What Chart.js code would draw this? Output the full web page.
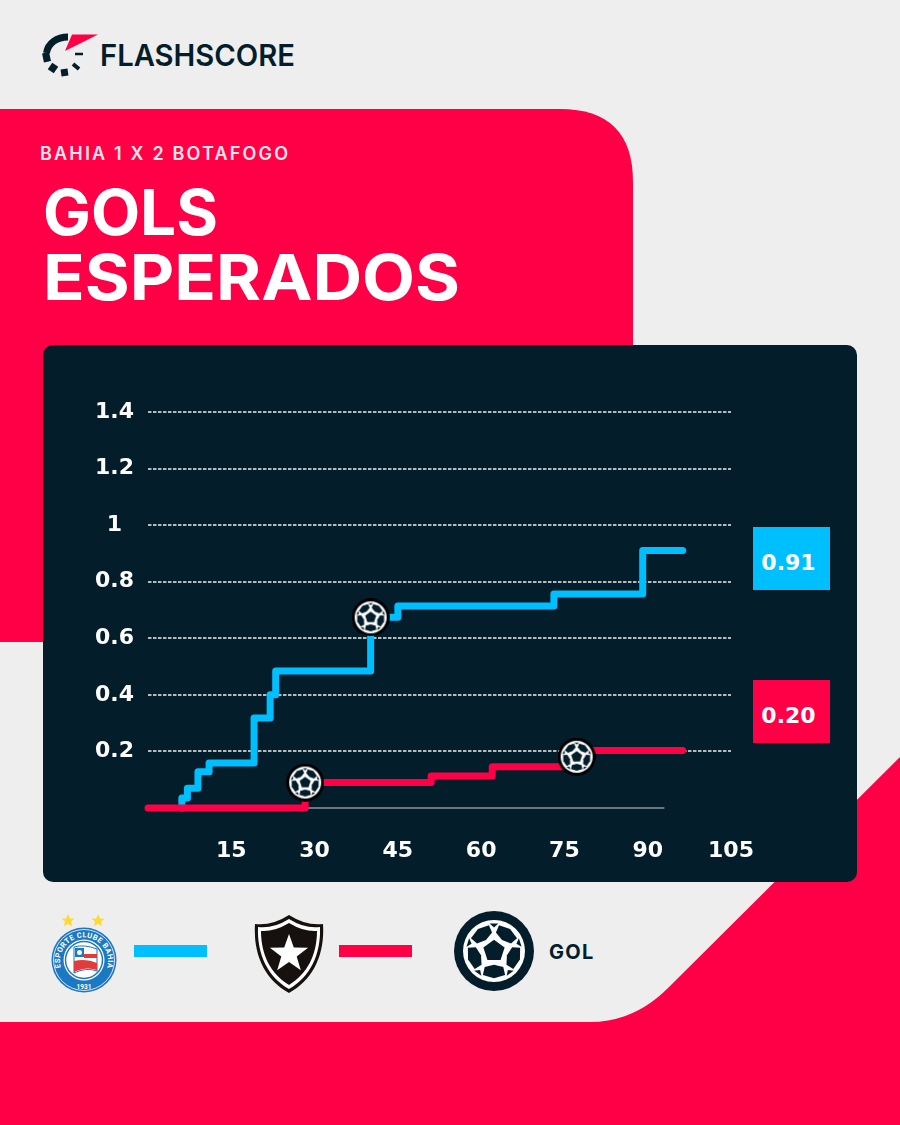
<!DOCTYPE html>
<html lang="pt-BR">
<head>
<meta charset="UTF-8" />
<title>Gols esperados - Bahia 1 x 2 Botafogo</title>
<script src="https://cdn.jsdelivr.net/npm/chart.js"></script>
<style>
    html, body { margin: 0; padding: 0; }
    body { width: 900px; height: 1125px; position: relative; overflow: hidden; background: #eeeeee; }
    #fundo { position: absolute; left: 0; top: 0; }
    #painel { position: absolute; left: 43px; top: 345px; width: 814px; height: 537px; background: #031e2a; border-radius: 10px; }
    #grafico { position: absolute; left: 0; top: 0; }
    .caixa { position: absolute; left: 710px; width: 77px; height: 63px; box-sizing: border-box; padding-right: 6px; text-align: center; color: #fff; font: bold 22px/71px 'DejaVu Sans', sans-serif; }
</style>
</head>
<body>

<svg id="fundo" width="900" height="1125" viewBox="0 0 900 1125">
    <!-- formas de fundo -->
    <path d="M0 109H560Q633 109 633 182V642H0Z" fill="#ff0046" />
    <path d="M900 757L668 988Q634 1022 590 1022H0V1125H900Z" fill="#ff0046" />

    <!-- logo -->
    <g fill="none" stroke="#031e2a" stroke-width="7">
        <path d="M46.5 53C48 43 57 37 68 37" />
        <path d="M43 58L50 56.5" stroke-width="9" />
        <path d="M50 66L56 70" stroke-width="8" />
        <path d="M64 69L65 76" stroke-width="7" />
        <path d="M73 64L79 69" stroke-width="4" />
        <path d="M75 54H83" stroke-width="2.5" />
    </g>
    <path d="M72 34.5H98L65 51Z" fill="#ff0046" />
    <text x="100" y="66" font-family="Inter, sans-serif" font-weight="600" font-size="30" fill="#031e2a" textLength="195" lengthAdjust="spacingAndGlyphs">FLASHSCORE</text>

    <!-- titulos -->
    <text x="40" y="160" font-family="Inter, sans-serif" font-weight="600" font-size="18" fill="#ffe6ec" textLength="248">BAHIA 1 X 2 BOTAFOGO</text>
    <text x="43" y="235" font-family="Inter, sans-serif" font-weight="700" font-size="63" fill="#fff" textLength="175" lengthAdjust="spacingAndGlyphs">GOLS</text>
    <text x="43" y="300" font-family="Inter, sans-serif" font-weight="700" font-size="63" fill="#fff" textLength="417" lengthAdjust="spacingAndGlyphs">ESPERADOS</text>

    <!-- legenda: Bahia -->
    <path d="M68 914l1.8 4.4 4.7.3-3.6 3 1.2 4.6-4.1-2.5-4.1 2.5 1.2-4.6-3.6-3 4.7-.3Z" fill="#ffd92e" />
    <path d="M98 914l1.8 4.4 4.7.3-3.6 3 1.2 4.6-4.1-2.5-4.1 2.5 1.2-4.6-3.6-3 4.7-.3Z" fill="#ffd92e" />
    <circle cx="84" cy="960" r="32.5" fill="#1b78c2" />
    <circle cx="84" cy="960" r="30.5" fill="none" stroke="#fff" stroke-width=".8" />
    <circle cx="84" cy="960" r="20.5" fill="#fff" />
    <circle cx="84" cy="960" r="18.5" fill="none" stroke="#1b78c2" stroke-width="1.5" />
    <path id="arcoBahia" d="M62 971A24 24 0 1 1 106 971" fill="none" />
    <text font-family="Roboto, sans-serif" font-weight="bold" font-size="7.5" fill="#fff"><textPath href="#arcoBahia" startOffset="50%" text-anchor="middle" textLength="88">ESPORTE CLUBE BAHIA</textPath></text>
    <text x="84" y="989" font-family="Roboto, sans-serif" font-weight="bold" font-size="6.5" fill="#fff" text-anchor="middle">1931</text>
    <path d="M74 947Q84 944 97 949V971Q86 967 74 973Z" fill="#fff" stroke="#1b78c2" stroke-width="1" />
    <path d="M84 954H97V958H84ZM74 961Q86 958 97 963V970Q86 966 74 972Z" fill="#e23b3b" />
    <path d="M75 948H84V957H75Z" fill="#1b78c2" />
    <circle cx="79.5" cy="952.5" r="2.5" fill="#fff" />
    <rect x="134" y="945" width="73" height="12" fill="#00bfff" />

    <!-- legenda: Botafogo -->
    <path d="M289 915Q306 926 323 924C325 955 313 980 289 993C265 980 253 955 255 924Q272 926 289 915Z" fill="#16110f" />
    <path d="M289 919Q305 929 320 927C321 955 310 977 289 989C268 977 257 955 258 927Q273 929 289 919Z" fill="#fff" />
    <path d="M289 923Q304 932 317 931C317 955 307 974 289 985C271 974 261 955 261 931Q274 932 289 923Z" fill="#16110f" />
    <path d="M289 934l4.8 13.5 14.3.3-11.4 8.7 4.1 13.7-11.8-8.1-11.8 8.1 4.1-13.7-11.4-8.7 14.3-.3Z" fill="#fff" />
    <rect x="339" y="945" width="73" height="12" fill="#ff0046" />

    <text x="549" y="959" font-family="Inter, sans-serif" font-weight="700" font-size="20" letter-spacing="1.3" fill="#031e2a">GOL</text>
</svg>

<div id="painel">
    <canvas id="grafico" width="814" height="537"></canvas>
    <div class="caixa" id="caixaBahia" style="top: 182px; background: #00bfff;"></div>
    <div class="caixa" id="caixaBotafogo" style="top: 335px; background: #ff0046;"></div>
</div>

<canvas id="bolaLegenda" width="84" height="84" style="position:absolute;left:452px;top:909px;"></canvas>

<script>
    // minuto e xG acumulado de cada degrau
    const minutosBahia = [6.1, 6.1, 7.1, 9, 11, 19.1, 22, 23, 40.1, 45, 73.1, 89.1, 96.3];
    const valoresBahia = [0, 0.035, 0.07, 0.128, 0.159, 0.318, 0.4, 0.484, 0.674, 0.714, 0.757, 0.91, 0.91];
    const minutosBotafogo = [0, 28.3, 51, 62, 77.2, 96.3];
    const valoresBotafogo = [0, 0.09, 0.113, 0.146, 0.203, 0.203];
    const minutosGols = [40.1, 28.3, 77.2];
    const valoresGols = [0.674, 0.09, 0.181];
    const minutosBase = [0, 93];
    const valoresBase = [0, 0];
    const ticksX = [15, 30, 45, 60, 75, 90, 105];
    const ticksY = [0, 0.2, 0.4, 0.6, 0.8, 1, 1.2, 1.4];
    const finalBahia = "0.91";
    const finalBotafogo = "0.20";

    const pontos = (xs, ys) => xs.map((x, i) => ({ x: x, y: ys[i] }));

    // desenha a bola: anel, disco branco e gomos escuros
    function desenharBola(ctx, cx, cy, raioAnel, raio, corAnel, corGomo) {
        const polar = (r, graus) => {
            const a = graus * Math.PI / 180;
            return [cx + Math.cos(a) * r * raio, cy + Math.sin(a) * r * raio];
        };
        const poligono = lista => {
            ctx.beginPath();
            lista.forEach((p, i) => i ? ctx.lineTo(p[0], p[1]) : ctx.moveTo(p[0], p[1]));
            ctx.closePath();
            ctx.fill();
        };
        ctx.fillStyle = corAnel;
        ctx.beginPath(); ctx.arc(cx, cy, raioAnel, 0, Math.PI * 2); ctx.fill();
        ctx.fillStyle = "#fff";
        ctx.beginPath(); ctx.arc(cx, cy, raio, 0, Math.PI * 2); ctx.fill();
        ctx.fillStyle = corGomo;
        poligono([0, 1, 2, 3, 4].map(i => polar(0.36, -90 + 72 * i)));
        for (let i = 0; i < 5; i++) {
            const a = -54 + 72 * i;
            poligono([polar(0.44, a), polar(0.6, a - 30), polar(0.85, a - 25), polar(0.88, a), polar(0.85, a + 25), polar(0.6, a + 30)]);
            const b = -90 + 72 * i;
            poligono([polar(0.76, b), polar(0.9, b - 9), polar(0.9, b + 9)]);
        }
    }

    const bola = document.createElement("canvas");
    bola.width = 38;
    bola.height = 38;
    desenharBola(bola.getContext("2d"), 19, 19, 19, 16, "#000", "#031e2a");
    desenharBola(document.getElementById("bolaLegenda").getContext("2d"), 42, 42, 40, 31, "#031e2a", "#031e2a");

    document.getElementById("caixaBahia").textContent = finalBahia;
    document.getElementById("caixaBotafogo").textContent = finalBotafogo;

    const fonteEixo = { family: "'DejaVu Sans', sans-serif", size: 22, weight: "bold" };

    new Chart(document.getElementById("grafico"), {
        type: "line",
        data: {
            datasets: [
                {
                    label: "Gol",
                    type: "scatter",
                    data: pontos(minutosGols, valoresGols),
                    pointStyle: bola,
                    pointRadius: 19,
                    showLine: false,
                    clip: false
                },
                {
                    label: "Botafogo",
                    data: pontos(minutosBotafogo, valoresBotafogo),
                    borderColor: "#ff0046",
                    borderWidth: 7,
                    stepped: true,
                    pointRadius: 0,
                    borderCapStyle: "round",
                    borderJoinStyle: "round",
                    clip: false
                },
                {
                    label: "Bahia",
                    data: pontos(minutosBahia, valoresBahia),
                    borderColor: "#00bfff",
                    borderWidth: 7,
                    stepped: true,
                    pointRadius: 0,
                    borderCapStyle: "round",
                    borderJoinStyle: "round",
                    clip: false
                },
                {
                    label: "Base",
                    data: pontos(minutosBase, valoresBase),
                    borderColor: "#8d989e",
                    borderWidth: 1.5,
                    pointRadius: 0,
                    clip: false
                }
            ]
        },
        options: {
            responsive: false,
            animation: false,
            layout: { padding: { left: 0, right: 126, top: 67, bottom: 0 } },
            plugins: { legend: { display: false }, tooltip: { enabled: false } },
            scales: {
                x: {
                    type: "linear",
                    min: 0,
                    max: 105,
                    afterBuildTicks: s => { s.ticks = ticksX.map(v => ({ value: v })); },
                    afterFit: s => { s.height = 74; s.paddingLeft = 0; s.paddingRight = 0; },
                    grid: { display: false },
                    border: { display: false },
                    ticks: { color: "#fff", font: fonteEixo, padding: 22, maxRotation: 0, autoSkip: false }
                },
                y: {
                    min: 0,
                    max: 1.4,
                    afterBuildTicks: s => { s.ticks = ticksY.map(v => ({ value: v })); },
                    afterFit: s => { s.width = 105; s.paddingTop = 0; s.paddingBottom = 0; },
                    grid: {
                        color: c => c.tick.value === 0 ? "transparent" : "#b4bbbf",
                        lineWidth: 2,
                        drawTicks: false
                    },
                    border: { display: false, dash: [3.5, 1.5] },
                    ticks: {
                        color: "#fff",
                        font: fonteEixo,
                        padding: 14,
                        crossAlign: "center",
                        callback: v => v === 0 ? "" : String(v)
                    }
                }
            }
        }
    });
</script>
</body>
</html>
